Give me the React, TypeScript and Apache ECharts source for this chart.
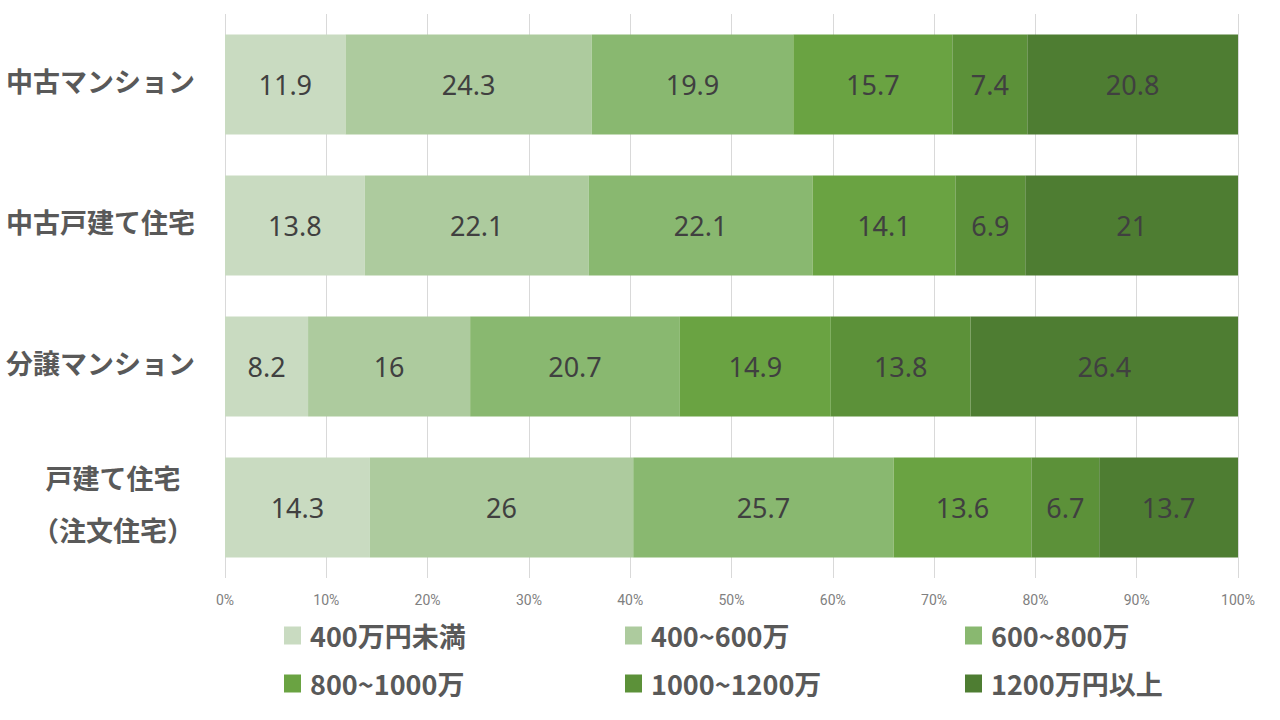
import React, { useEffect, useRef } from "react";
import * as echarts from "echarts";

const categories = ["中古マンション", "中古戸建て住宅", "分譲マンション", "戸建て住宅\n（注文住宅）"];
const seriesNames = ["400万円未満", "400~600万", "600~800万", "800~1000万", "1000~1200万", "1200万円以上"];
const s1 = [11.9, 13.8, 8.2, 14.3];
const s2 = [24.3, 22.1, 16, 26];
const s3 = [19.9, 22.1, 20.7, 25.7];
const s4 = [15.7, 14.1, 14.9, 13.6];
const s5 = [7.4, 6.9, 13.8, 6.7];
const s6 = [20.8, 21, 26.4, 13.7];
const seriesValues = [s1, s2, s3, s4, s5, s6];
const colors = ["#C9DBC1", "#ADCB9E", "#89B870", "#6AA342", "#5C9139", "#4E7D32"];
const xTicks = [0, 10, 20, 30, 40, 50, 60, 70, 80, 90, 100];

const JP = "'Noto Sans CJK JP', 'Noto Sans', sans-serif";

export default function App() {
  const ref = useRef<HTMLDivElement>(null);
  useEffect(() => {
    if (!ref.current) return;
    const chart = echarts.init(ref.current, null, { renderer: "svg" });
    const legendPos = [
      [284, 622], [625, 622], [965, 622],
      [284, 670], [625, 670], [965, 670],
    ];
    chart.setOption({
      animation: false,
      grid: { left: 225, right: 42, top: 14, height: 564, containLabel: false },
      xAxis: {
        type: "value",
        min: 0,
        max: 100,
        interval: 10,
        axisLine: { show: false },
        axisTick: { show: false },
        splitLine: { show: true, lineStyle: { color: "#D9D9D9", width: 1 } },
        axisLabel: {
          formatter: (v: number) => (xTicks.includes(v) ? v + "%" : ""),
          color: "#808080",
          fontSize: 14,
          fontFamily: "'Liberation Sans Narrow', 'Roboto', sans-serif",
          margin: 15,
        },
      },
      yAxis: {
        type: "category",
        data: categories,
        inverse: true,
        axisLine: { show: false },
        axisTick: { show: false },
        splitLine: { show: false },
        axisLabel: {
          margin: 30,
          align: "right",
          color: "#595959",
          fontSize: 27,
          fontWeight: "bold",
          fontFamily: JP,
          padding: [0, 0, 8, 0],
          formatter: (v: string) => {
            if (v.indexOf("\n") >= 0) {
              return v.split("\n").map((s) => "{c|" + s + "}").join("\n");
            }
            return v;
          },
          rich: {
            c: {
              width: 164,
              align: "center",
              lineHeight: 52,
              color: "#595959",
              fontSize: 27,
              fontWeight: "bold",
              fontFamily: JP,
            },
          },
        },
      },
      legend: seriesNames.map((n, i) => ({
        data: [n],
        left: legendPos[i][0],
        top: legendPos[i][1],
        itemWidth: 17,
        itemHeight: 18,
        itemGap: 0,
        padding: 0,
        icon: "rect",
        selectedMode: false,
        textStyle: {
          color: "#595959",
          fontSize: 27,
          fontWeight: "bold",
          fontFamily: JP,
          padding: [0, 0, 0, 4],
        },
      })),
      series: seriesNames.map((n, i) => ({
        name: n,
        type: "bar",
        stack: "total",
        data: seriesValues[i],
        barWidth: 100,
        itemStyle: { color: colors[i] },
        label: {
          show: true,
          position: "inside",
          color: "#404040",
          fontSize: 27,
          padding: [0, 0, 4, 0],
          fontFamily: "'Noto Sans', 'DejaVu Sans', sans-serif",
        },
      })),
    });
    return () => chart.dispose();
  }, []);
  return <div ref={ref} style={{ width: 1280, height: 720, position: "absolute", left: 0, top: 0 }} />;
}
